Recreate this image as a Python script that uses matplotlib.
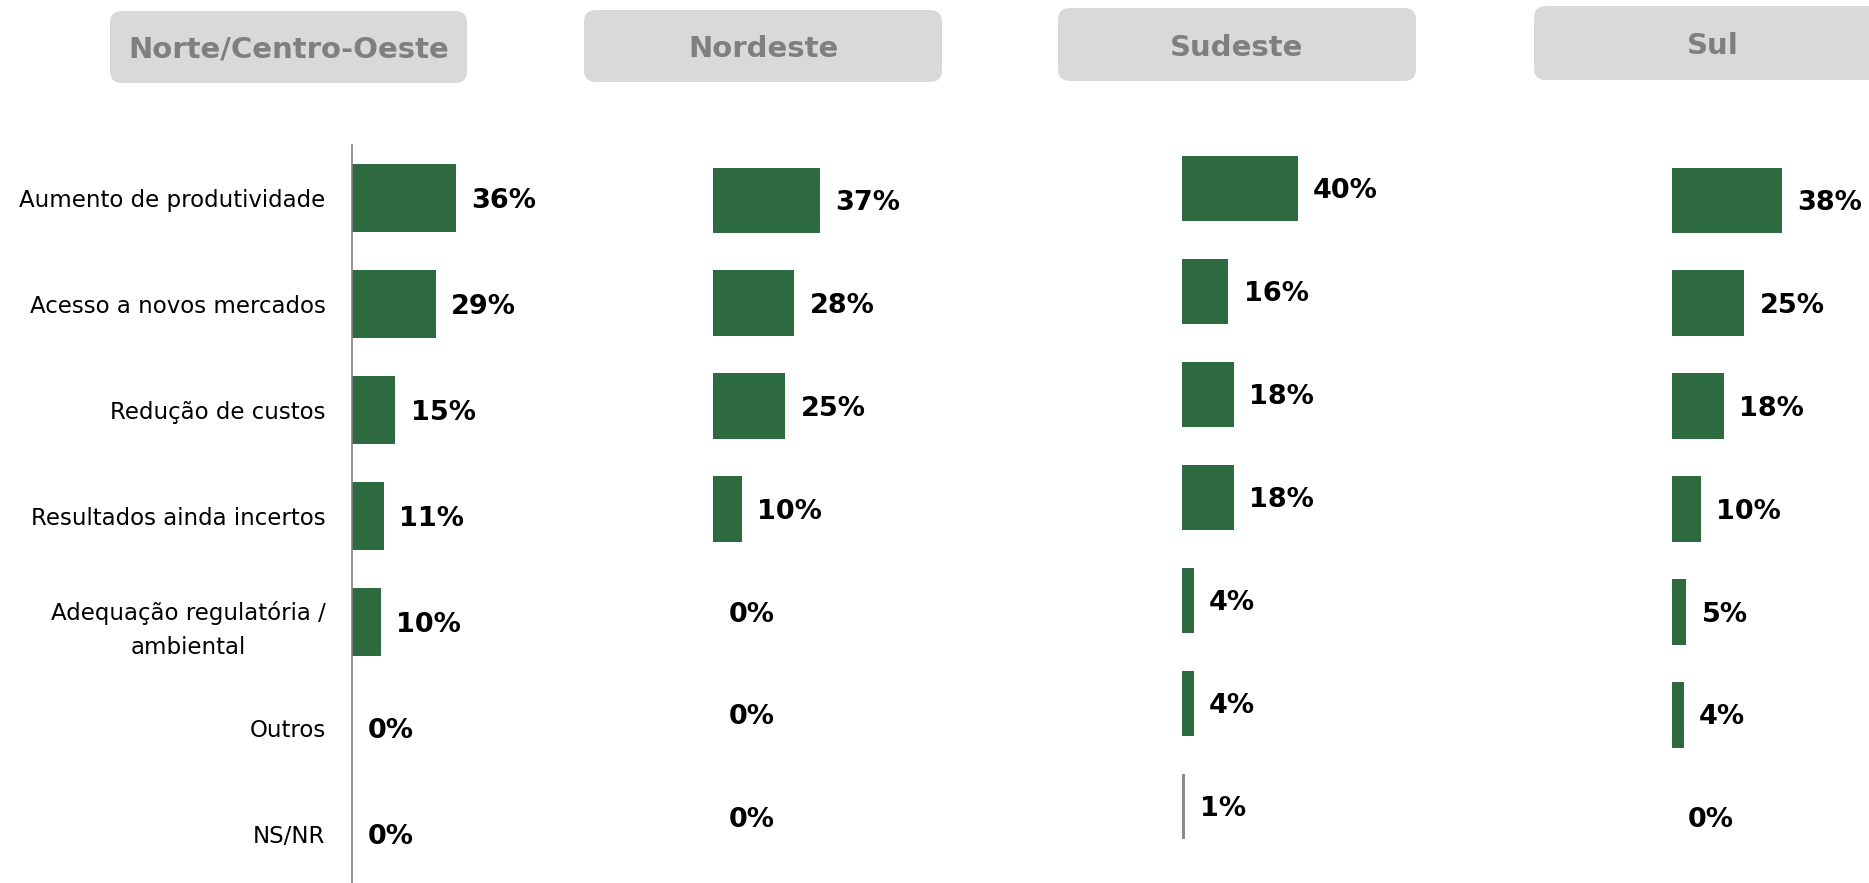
import matplotlib

matplotlib.use("Agg")
import matplotlib.pyplot as plt
from matplotlib.patches import FancyBboxPatch
from matplotlib.transforms import IdentityTransform

regions = ["Norte/Centro-Oeste", "Nordeste", "Sudeste", "Sul"]
categories = ["Aumento de produtividade", "Acesso a novos mercados",
              "Redução de custos", "Resultados ainda incertos",
              "Adequação regulatória /\nambiental", "Outros", "NS/NR"]
norte_co = [36, 29, 15, 11, 10, 0, 0]
nordeste = [37, 28, 25, 10, 0, 0, 0]
sudeste = [40, 16, 18, 18, 4, 4, 1]
sul = [38, 25, 18, 10, 5, 4, 0]
values = [norte_co, nordeste, sudeste, sul]

GREEN = "#2E6A3F"
W, H = 1869, 883

fig = plt.figure(figsize=(W / 100, H / 100), dpi=100)

# panel placement in pixels: left, top, bottom (axes span rows -0.5..6.5)
panels = [(352, 145, 887), (713, 149, 869), (1182, 137, 858), (1672, 149, 869)]
# header boxes in pixels: left, top, right, bottom
headers = [(110, 11, 467, 83), (584, 10, 942, 82), (1058, 8, 1416, 81),
           (1534, 6, 1892, 80)]
x_max = 60
ax_w = x_max * 2.897

for i, (vals, (left, top, bottom)) in enumerate(zip(values, panels)):
    ax = fig.add_axes([left / W, 1 - bottom / H, ax_w / W, (bottom - top) / H])
    ax.set_facecolor("none")
    y = range(len(categories))
    colors = [GREEN] * len(vals)
    if i == 2:
        colors[-1] = "#8C8C8C"
    ax.barh(y, vals, height=0.64, color=colors)
    for yy, v in zip(y, vals):
        ax.annotate(f"{v}%", (v, yy), xytext=(11, -2), textcoords="offset points",
                    ha="left", va="center", fontsize=19.5, fontweight="bold",
                    color="black")
    ax.set_xlim(0, x_max)
    ax.set_ylim(len(categories) - 0.5, -0.5)
    for s in ["top", "right", "bottom"]:
        ax.spines[s].set_visible(False)
    ax.set_xticks([])
    if i == 0:
        ax.spines["left"].set_color("#808080")
        ax.spines["left"].set_linewidth(1.2)
        ax.set_yticks(list(y))
        ax.set_yticklabels(categories, fontsize=16.5, color="black",
                           multialignment="center", linespacing=1.6)
        ax.tick_params(axis="y", length=0, pad=19)
    else:
        ax.spines["left"].set_visible(False)
        ax.set_yticks([])

for name, (l, t, r, b) in zip(regions, headers):
    box = FancyBboxPatch((l, H - b), r - l, b - t,
                         boxstyle="round,pad=0,rounding_size=12",
                         transform=IdentityTransform(), facecolor="#D9D9D9",
                         edgecolor="none")
    fig.patches.append(box)
    fig.text((l + r) / 2 / W, 1 - ((t + b) / 2 + 3) / H, name, ha="center",
             va="center", fontsize=21, fontweight="bold", color="#7F7F7F")

fig.savefig("out.png", dpi=100)
